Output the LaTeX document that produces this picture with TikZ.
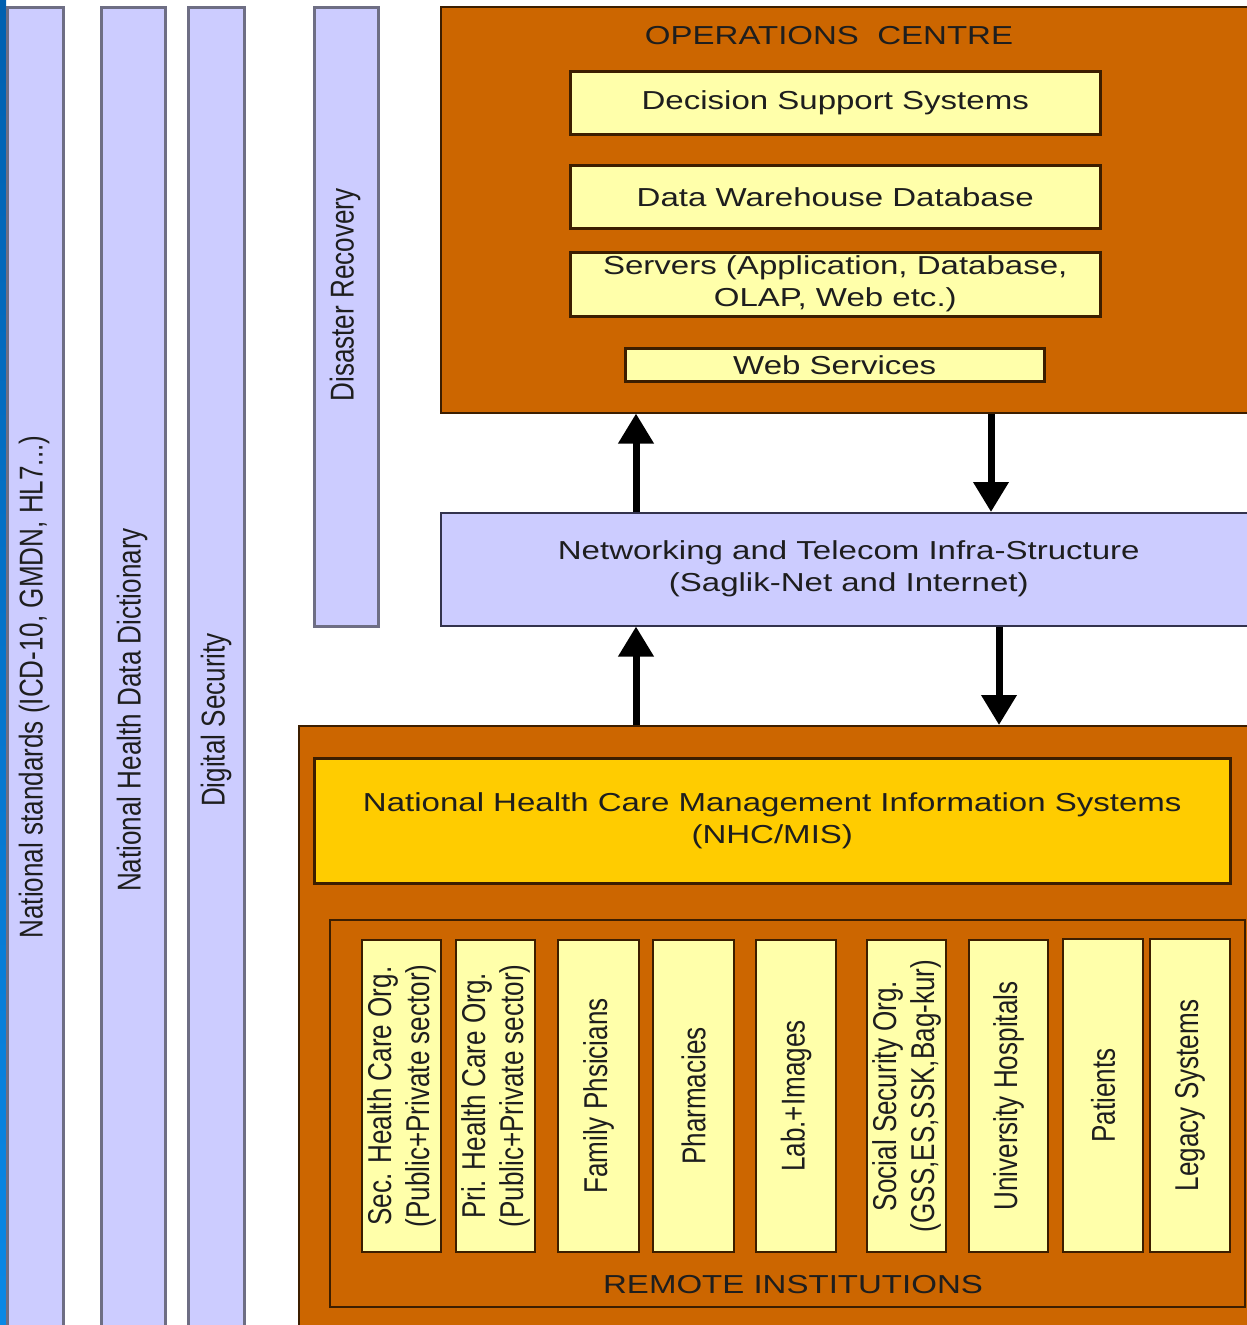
\documentclass[tikz,border=0pt]{standalone}
\usepackage{fontspec}
\setmainfont{Liberation Sans}[FakeStretch=1.27]
\newfontfamily\rotfont{Liberation Sans}[FakeStretch=0.79]
\usetikzlibrary{arrows.meta,positioning,calc}

\definecolor{cLav}{HTML}{CCCCFF}
\definecolor{cBarLine}{HTML}{6E6E84}
\definecolor{cOrange}{HTML}{CC6600}
\definecolor{cDark}{HTML}{3C1E00}
\definecolor{cYel}{HTML}{FFFFAA}
\definecolor{cGold}{HTML}{FFCC00}
\definecolor{cNetLine}{HTML}{33334D}
\definecolor{cText}{HTML}{1E1E1E}
\definecolor{cBlueA}{HTML}{0060B0}
\definecolor{cBlueB}{HTML}{0A88E6}

\newcommand{\hfnt}{\fontsize{26}{32}\selectfont}
\newcommand{\vfnt}{\rotfont\fontsize{33}{38}\selectfont}

\begin{document}
\begin{tikzpicture}[x=1pt,y=-1pt,
    bar/.style={draw=cBarLine, line width=2.5pt, fill=cLav, inner sep=0pt, anchor=north west},
    orbox/.style={draw=cDark, line width=1.5pt, fill=cOrange, inner sep=0pt, anchor=north west},
    ybox/.style={draw=cDark, line width=2.5pt, fill=cYel, inner sep=0pt, anchor=north west,
        font=\hfnt, text=cText, align=center},
    rtxt/.style={rotate=90, font=\vfnt, text=cText, align=center, inner sep=0pt},
    htxt/.style={font=\hfnt, text=cText, align=center, inner sep=0pt},
    flow/.style={line width=7pt, -{Triangle[width=34pt,length=30pt]}}]

    %畫布大小
    \useasboundingbox (0,0) rectangle (1247,1325);
    \clip (0,0) rectangle (1247,1325);
    \shade[top color=cBlueA, bottom color=cBlueB] (0,0) rectangle (6,1325);

    %左側直條
    \node[bar, minimum width=56pt, minimum height=1340pt] (bStd) at (6,6) {};
    \node[bar, minimum width=64pt, minimum height=1340pt] (bDict) at (100,6) {};
    \node[bar, minimum width=56pt, minimum height=1340pt] (bDigi) at (187,6) {};
    \node[bar, minimum width=64pt, minimum height=619pt] (bDR) at (313,6) {};

    \node[rtxt] (tStd) at (34,687) {National standards (ICD-10, GMDN, HL7...)};
    \node[rtxt] (tDict) at (132,710) {National Health Data Dictionary};
    \node[rtxt] (tDigi) at (216,720) {Digital Security};
    \node[rtxt] (tDR) at (345,295) {Disaster Recovery};

    %營運中心
    \node[orbox, minimum width=820pt, minimum height=406pt] (ops) at (440,6) {};
    \node[htxt] (opsT) at (829,36) {OPERATIONS~ CENTRE};
    \node[ybox, minimum width=530pt, minimum height=63pt] (dss) at (569,70) {Decision Support Systems};
    \node[ybox, minimum width=530pt, minimum height=63pt] (dwh) at (569,164) {Data Warehouse Database};
    \node[ybox, minimum width=530pt, minimum height=64pt] (srv) at (569,251)
        {Servers (Application, Database,\\OLAP, Web etc.)};
    \node[ybox, minimum width=419pt, minimum height=33pt] (ws) at (624,347) {Web Services};

    %網路
    \node[draw=cNetLine, line width=1.5pt, fill=cLav, inner sep=0pt, anchor=north west,
        minimum width=816pt, minimum height=113pt, font=\hfnt, text=cText, align=center] (net) at (440,512)
        {Networking and Telecom Infra-Structure\\(Saglik-Net and Internet)};

    %遠端機構
    \node[orbox, minimum width=962pt, minimum height=620pt] (rem) at (298,725) {};
    \node[ybox, fill=cGold, minimum width=916pt, minimum height=125pt] (nhc) at (313,757)
        {National Health Care Management Information Systems\\(NHC/MIS)};
    \node[draw=cDark, line width=1.5pt, inner sep=0pt, anchor=north west,
        minimum width=915pt, minimum height=387pt] (frm) at (329,919) {};
    \node[htxt] (remT) at (793,1285) {REMOTE INSTITUTIONS};

    \foreach \xl/\xr/\yt/\t/\n in
    {361/440/939/{Sec. Health Care Org.\\(Public+Private sector)}/iSec,
        455/534/939/{Pri. Health Care Org.\\(Public+Private sector)}/iPri,
        557/638/939/{Family Phsicians}/iFam,
        652/733/939/{Pharmacies}/iPha,
        755/835/939/{Lab.+Images}/iLab,
        866/945/939/{Social Security Org.\\(GSS,ES,SSK,Bag-kur)}/iSoc,
        968/1047/939/{University Hospitals}/iUni,
        1062/1142/938/{Patients}/iPat,
        1149/1229/938/{Legacy Systems}/iLeg
    }
    {
        \node[ybox, line width=2pt, minimum width={(\xr-\xl)*1pt}, minimum height={(1251-\yt)*1pt}] (\n) at (\xl,\yt) {};
        \node[rtxt] at (\n.center) {\t};
    };

    %箭頭
    \coordinate (aL) at (636,0);
    \coordinate (aR) at (991,0);
    \coordinate (aRR) at (999,0);
    \draw[flow] (net.north -| aL) -- (ops.south -| aL);
    \draw[flow] (ops.south -| aR) -- (net.north -| aR);
    \draw[flow] (rem.north -| aL) -- (net.south -| aL);
    \draw[flow] (net.south -| aRR) -- (rem.north -| aRR);
\end{tikzpicture}
\end{document}
